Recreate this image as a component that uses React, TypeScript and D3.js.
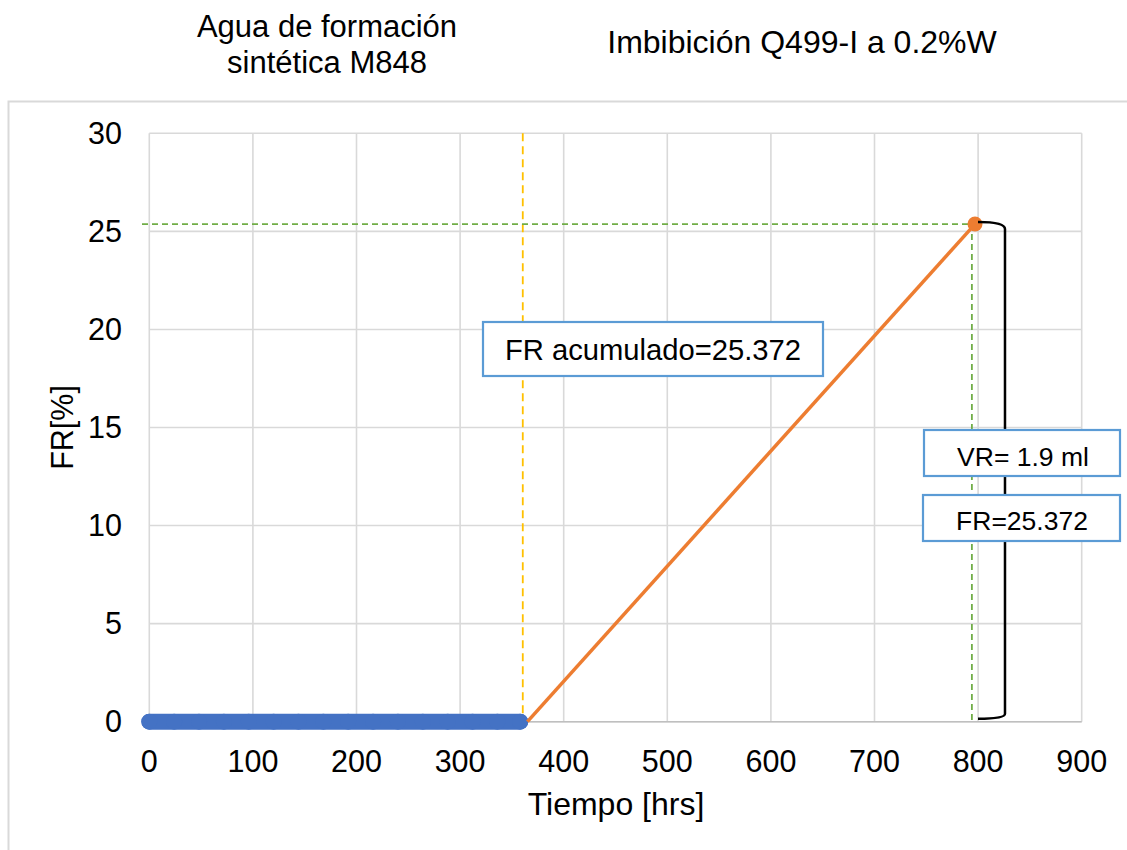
import React from "react";
import * as d3 from "d3";

const xTicks = [0, 100, 200, 300, 400, 500, 600, 700, 800, 900];
const yTicks = [0, 5, 10, 15, 20, 25, 30];

// Series 1: "Agua de formación sintética M848" (blue)
const blueTimes = [0, 24, 48, 72, 96, 120, 144, 168, 192, 216, 240, 264, 288, 312, 336, 358];
const blueFR = [0, 0, 0, 0, 0, 0, 0, 0, 0, 0, 0, 0, 0, 0, 0, 0];

// Series 2: "Imbibición Q499-I a 0.2%W" (orange)
const orangeTimes = [365, 797];
const orangeFR = [0, 25.372];

// Reference lines
const changeTime = 360.5; // yellow dashed vertical
const finalTime = 794; // green dashed vertical
const finalFR = 25.372; // green dashed horizontal

const titleLeft = ["Agua de formación", "sintética M848"];
const titleRight = "Imbibición Q499-I a 0.2%W";
const xLabel = "Tiempo [hrs]";
const yLabel = "FR[%]";
const noteAcum = "FR acumulado=25.372";
const noteVR = "VR= 1.9 ml";
const noteFR = "FR=25.372";

const FONT = "'Liberation Sans', Arial, sans-serif";

export default function App() {
  const W = 1127;
  const H = 850;
  const x = d3.scaleLinear().domain([0, 900]).range([149.3, 1081.7]);
  const y = d3.scaleLinear().domain([0, 30]).range([721.7, 133.3]);

  const line = d3
    .line<[number, number]>()
    .x((d) => x(d[0]))
    .y((d) => y(d[1]));

  const bluePts: [number, number][] = blueTimes.map((t, i) => [t, blueFR[i]]);
  const orangePts: [number, number][] = orangeTimes.map((t, i) => [t, orangeFR[i]]);

  const gx = x(orangeTimes[1]);
  const gy = y(orangeFR[1]);
  const bx = gx + 30; // bracket vertical line
  const bTop = gy;
  const bBot = y(0) - 3;
  const bracket = `M${gx + 3},${bTop - 2} Q${bx},${bTop - 2} ${bx},${bTop + 5} L${bx},${bBot - 5} Q${bx},${bBot} ${gx + 3},${bBot}`;

  return (
    <div style={{ position: "absolute", left: 0, top: 0 }}>
      <svg width={W} height={H} style={{ display: "block", fontFamily: FONT }}>
        <rect x={0} y={0} width={W} height={H} fill="#fff" />
        {/* titles */}
        <text x={327} y={37} textAnchor="middle" fontSize={31} fill="#000">
          {titleLeft[0]}
        </text>
        <text x={327} y={73} textAnchor="middle" fontSize={31} fill="#000">
          {titleLeft[1]}
        </text>
        <text x={802} y={53} textAnchor="middle" fontSize={32} fill="#000">
          {titleRight}
        </text>
        {/* outer chart border */}
        <rect x={8.5} y={101.5} width={1125} height={760} fill="none" stroke="#D9D9D9" strokeWidth={2} />

        {/* gridlines */}
        {xTicks.map((t) => (
          <line key={"gx" + t} x1={x(t)} x2={x(t)} y1={y(30)} y2={y(0)} stroke="#D9D9D9" strokeWidth={1.6} />
        ))}
        {yTicks.map((t) => (
          <line key={"gy" + t} x1={x(0)} x2={x(900)} y1={y(t)} y2={y(t)} stroke="#D9D9D9" strokeWidth={1.6} />
        ))}
        <line x1={x(0)} x2={x(900)} y1={y(0)} y2={y(0)} stroke="#BFBFBF" strokeWidth={1.6} />

        {/* tick labels */}
        {yTicks.map((t) => (
          <text key={"ly" + t} x={122} y={y(t)} dy="0.35em" textAnchor="end" fontSize={30.5} fill="#000">
            {t}
          </text>
        ))}
        {xTicks.map((t) => (
          <text key={"lx" + t} x={x(t)} y={772} textAnchor="middle" fontSize={30.5} fill="#000">
            {t}
          </text>
        ))}
        <text x={616} y={815} textAnchor="middle" fontSize={32} fill="#000">
          {xLabel}
        </text>
        <text transform={`translate(73,${(y(0) + y(30)) / 2}) rotate(-90)`} textAnchor="middle" fontSize={30.5} fill="#000">
          {yLabel}
        </text>

        {/* reference dashed lines */}
        <line x1={x(changeTime)} x2={x(changeTime)} y1={y(30)} y2={y(0)} stroke="#FFC000" strokeWidth={1.8} strokeDasharray="8,5" />
        <line x1={142} x2={x(finalTime)} y1={y(finalFR)} y2={y(finalFR)} stroke="#70AD47" strokeWidth={1.8} strokeDasharray="6,4" />
        <line x1={x(finalTime)} x2={x(finalTime)} y1={y(finalFR)} y2={y(0)} stroke="#70AD47" strokeWidth={1.8} strokeDasharray="6,4" />

        {/* blue series */}
        <path d={line(bluePts) || ""} fill="none" stroke="#4472C4" strokeWidth={16} strokeLinecap="round" />
        {bluePts.map((p, i) => (
          <circle key={"b" + i} cx={x(p[0])} cy={y(p[1])} r={8} fill="#4472C4" />
        ))}

        {/* orange series */}
        <path d={line(orangePts) || ""} fill="none" stroke="#ED7D31" strokeWidth={3.5} />
        <circle cx={gx} cy={gy} r={7.5} fill="#ED7D31" />

        {/* bracket */}
        <path d={bracket} fill="none" stroke="#000" strokeWidth={2.5} />

        {/* annotation boxes */}
        <rect x={483} y={322} width={340} height={54} fill="#fff" stroke="#5B9BD5" strokeWidth={2.2} />
        <text x={653} y={360} textAnchor="middle" fontSize={29.2} fill="#000">
          {noteAcum}
        </text>
        <rect x={924} y={430} width={196} height={46} fill="#fff" stroke="#5B9BD5" strokeWidth={2.2} />
        <text x={1023} y={466} textAnchor="middle" fontSize={26.5} fill="#000">
          {noteVR}
        </text>
        <rect x={923} y={495} width={197} height={46} fill="#fff" stroke="#5B9BD5" strokeWidth={2.2} />
        <text x={1022} y={530} textAnchor="middle" fontSize={26.5} fill="#000">
          {noteFR}
        </text>
      </svg>
    </div>
  );
}
